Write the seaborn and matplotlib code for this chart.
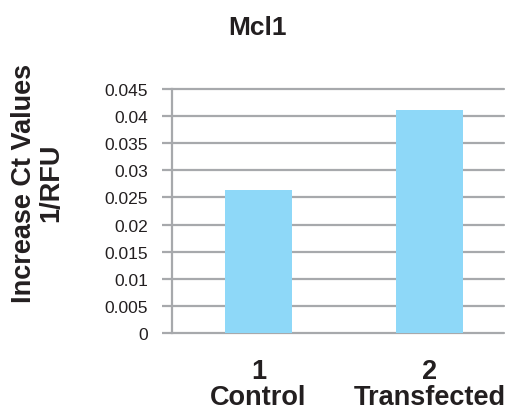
import matplotlib
matplotlib.use("Agg")
import matplotlib.pyplot as plt
import seaborn as sns
import pandas as pd

categories = ["1\nControl", "2\nTransfected"]
values = [0.0263, 0.0411]
yticks = [0, 0.005, 0.01, 0.015, 0.02, 0.025, 0.03, 0.035, 0.04, 0.045]
ytick_labels = ["0", "0.005", "0.01", "0.015", "0.02", "0.025", "0.03", "0.035", "0.04", "0.045"]
title = "Mcl1"
ylabel = "Increase Ct Values\n1/RFU"

sns.set_style("white")
plt.rcParams["font.family"] = ["Liberation Sans", "DejaVu Sans"]

df = pd.DataFrame({"cat": categories, "val": values})

fig = plt.figure(figsize=(5.05, 4.10), dpi=100)
ax = fig.add_axes([172 / 505, 1 - 334 / 410, (504 - 172) / 505, (334 - 90) / 410])

grid_col = "#A7A9AC"
text_col = "#231F20"

sns.barplot(data=df, x="cat", y="val", order=categories, color="#8ED8F8",
            saturation=1, width=0.39, ax=ax, zorder=3, linewidth=0,
            edgecolor="none")

ax.set_xlim(-0.506, 1.436)
ax.set_ylim(0, 0.045)
ax.set_yticks(yticks)
ax.set_yticklabels(ytick_labels)
ax.set_xlabel("")
ax.set_ylabel("")

ax.yaxis.grid(True, color=grid_col, linewidth=1.6, zorder=1)
ax.set_axisbelow(True)
for gl in ax.get_ygridlines():
    gl.set_clip_on(False)

for s in ["top", "right", "bottom"]:
    ax.spines[s].set_visible(False)
ax.spines["left"].set_color(grid_col)
ax.spines["left"].set_linewidth(1.6)

ax.tick_params(axis="y", length=7.2, width=1.6, color=grid_col, pad=10,
               labelsize=12.5, labelcolor=text_col, left=True)
ax.tick_params(axis="x", length=0, pad=18, labelsize=19.5, labelcolor=text_col)
for lab in ax.get_xticklabels():
    lab.set_fontweight("bold")
    lab.set_linespacing(1.0)

fig.text(258 / 505, 1 - 35 / 410, title, ha="center", va="baseline",
         fontsize=19, fontweight="bold", color=text_col)
fig.text(38 / 505, 1 - 183 / 410, ylabel, ha="center", va="center", rotation=90,
         multialignment="center", fontsize=19.5, fontweight="bold", color=text_col,
         linespacing=1.05)

fig.savefig("out.png", dpi=100)
